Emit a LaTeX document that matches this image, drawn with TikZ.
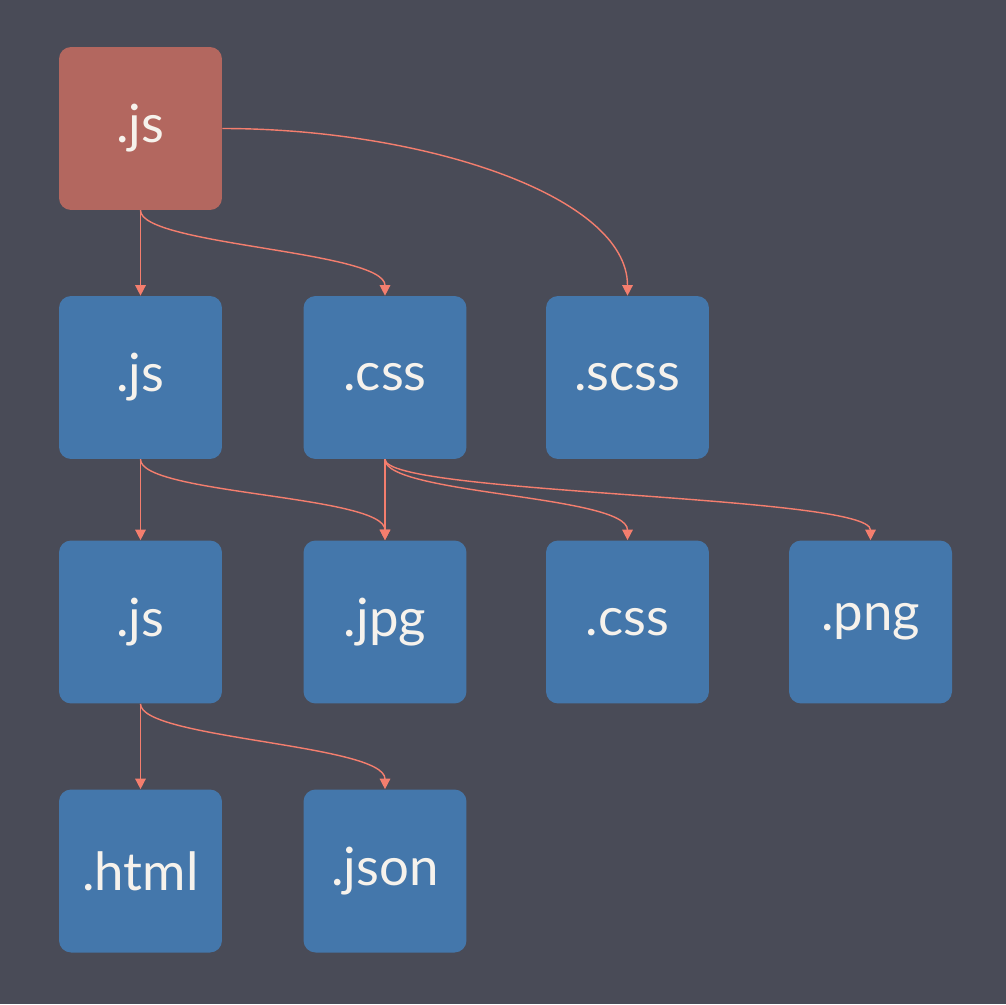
\documentclass[tikz,border=0pt]{standalone}
\usepackage{fontspec}
\setmainfont{Lato}
\definecolor{bg}{HTML}{494B57}
\definecolor{rd}{HTML}{B3675F}
\definecolor{bl}{HTML}{4477AB}
\definecolor{ln}{HTML}{F47E6E}
\definecolor{tx}{HTML}{F6F2EC}
\usetikzlibrary{arrows.meta}
\tikzset{file/.style={fill=bl, rounded corners=0.24cm, minimum size=3.26cm, text=tx, font=\fontsize{30}{34}\selectfont, inner sep=0pt}}
\tikzset{entry/.style={file, fill=rd}}
\tikzset{dep/.style={ln, line width=0.8pt, -{Triangle[length=6pt,width=6pt]}}}
\tikzset{sway/.style={out=-90, in=90, out distance=0.7cm, in distance=0.9cm}}

\begin{document}
\begin{tikzpicture}[x=0.02cm, y=-0.02cm]
		\fill[bg] (0, 0) rectangle (1006, 1004);
		\node[entry] (e) at (140.5, 128.5) {.js};
		\node[file] (a1) at (140.5, 377.5) {.js};
		\node[file] (a2) at (385, 377.5) {.css};
		\node[file] (a3) at (627.5, 377.5) {.scss};
		\node[file] (b1) at (140.5, 622) {.js};
		\node[file] (b2) at (385, 622) {.jpg};
		\node[file] (b3) at (627.5, 622) {.css};
		\node[file] (b4) at (870.5, 622) {.png};
		\node[file] (c1) at (140.5, 871) {.html};
		\node[file] (c2) at (385, 871) {.json};
		\draw[dep] (e.south) -- (a1.north);
		\draw[dep] (e.south) to[sway] (a2.north);
		\draw[dep] (e.east) to[out=0, in=90, out distance=4cm, in distance=2cm] (a3.north);
		\draw[dep] (a1.south) -- (b1.north);
		\draw[dep] (a1.south) to[sway] (b2.north);
		\draw[dep] (a2.south) -- (b2.north);
		\foreach \t in {b3, b4} { \draw[dep] (a2.south) to[sway] (\t.north); }
		\draw[dep] (b1.south) -- (c1.north);
		\draw[dep] (b1.south) to[sway] (c2.north);
	\end{tikzpicture}
\end{document}
